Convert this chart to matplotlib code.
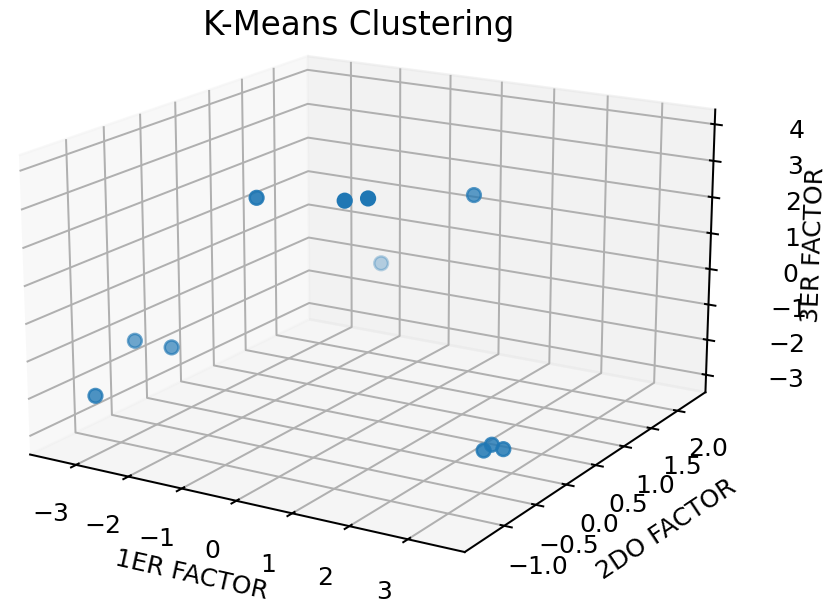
import matplotlib
matplotlib.use("Agg")
import matplotlib.pyplot as plt

# factor scores
f1 = [-1.06, 0.52, 0.84, 1.13, -1.98, -3.60, -2.90, -3.24, 2.36, 2.31, 2.57]
f2 = [-0.46, -0.44, -0.36, 1.05, 2.21, -0.36, -0.34, -1.16, 0.13, 0.31, 0.26]
f3 = [3.10, 3.37, 3.44, 2.54, -1.03, -1.47, -1.48, -2.14, -3.22, -3.26, -3.25]

fig = plt.figure(figsize=(829 / 180, 605 / 180), dpi=180)
ax = fig.add_axes([0.0165, 0.087, 0.862, 0.879], projection="3d")
# flatter view + wider box to mimic the old stretched 3D look
ax.view_init(elev=16.8, azim=-59)
ax.set_box_aspect((4, 4.19, 2.476), zoom=1.41)

ax.scatter(f1, f2, f3, s=30, clip_on=False)

ax.set_xlim(-3.9, 3.95)
ax.set_ylim(-1.6, 2.55)
ax.set_zlim(-3.5, 4.4)
ax.set_xticks([-3, -2, -1, 0, 1, 2, 3])
ax.set_yticks([-1.0, -0.5, 0.0, 0.5, 1.0, 1.5, 2.0])
ax.set_zticks([-3, -2, -1, 0, 1, 2, 3, 4])
ax.tick_params(axis="x", pad=1)
ax.tick_params(axis="y", pad=0)
ax.tick_params(axis="z", pad=6)

ax.set_xlabel("1ER FACTOR", labelpad=-4)
ax.set_ylabel("2DO FACTOR", labelpad=-3)
ax.set_zlabel("3ER FACTOR", labelpad=-3)
fig.text(0.433, 1 - 25 / 605, "K-Means Clustering", ha="center", va="center", fontsize=13)

fig.savefig("out.png", dpi=180)
